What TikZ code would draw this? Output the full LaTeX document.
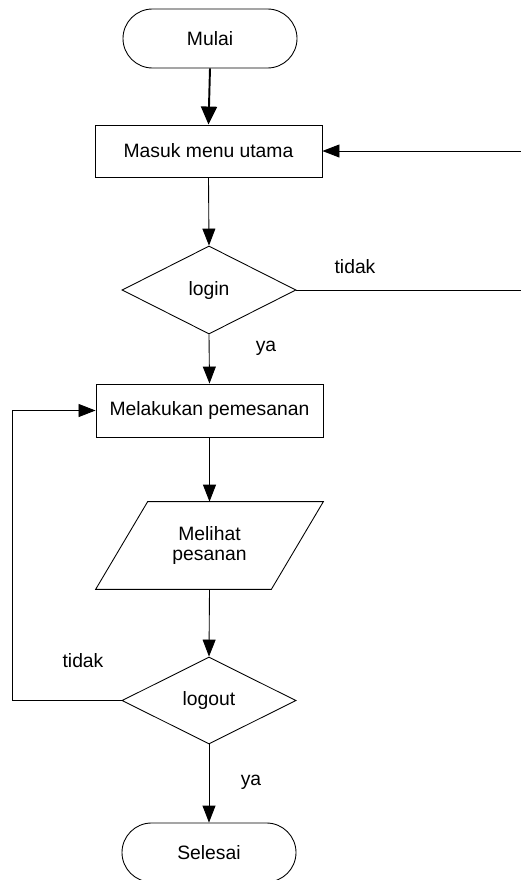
\documentclass[tikz,border=0pt]{standalone}
\usepackage{fontspec}
\setmainfont{Liberation Sans}
\usetikzlibrary{shapes.geometric,arrows.meta}

\begin{document}
\begin{tikzpicture}[x=0.2mm, y=-0.2mm,
  font=\fontsize{11pt}{11pt}\selectfont,
  terminal/.style={draw, rectangle, rounded corners=5.9mm, minimum width=34.8mm, minimum height=11.8mm, line width=0.5pt},
  process/.style={draw, rectangle, minimum width=45.4mm, line width=0.5pt},
  decision/.style={draw, diamond, inner sep=0pt, minimum width=34.8mm, line width=0.5pt},
  io/.style={rectangle, inner sep=0pt, minimum width=45.4mm, minimum height=17.4mm, align=center},
  arrow/.style={-{Triangle[length=3.4mm, width=2.6mm]}, line width=0.5pt}]

\useasboundingbox (0,0) rectangle (520,880);

% Draw the flow nodes
\node[terminal] (mulai) at (210, 38.5) {Mulai};
\node[process, minimum height=10.4mm] (masuk) at (208.5, 151) {Masuk menu utama};
\node[decision, minimum height=17.6mm] (login) at (209, 290) {login};
\node[process, minimum height=10.6mm] (pesan) at (209.5, 410.5) {Melakukan pemesanan};
\node[io] (lihat) at (209.5, 545.5) {Melihat\\pesanan};
\node[decision, minimum height=17.4mm] (logout) at (209, 700.5) {logout};
\node[terminal] (selesai) at (209, 852.5) {Selesai};

% Draw the slanted input box round lihat
\draw [line width=0.5pt] ([xshift=10.4mm]lihat.north west) -- (lihat.north east)
  -- ([xshift=-10.4mm]lihat.south east) -- (lihat.south west) -- cycle;

% Draw the arrows
\draw [-{Triangle[length=3.6mm, width=3.2mm]}, line width=1.1pt] (mulai.south) -- (masuk.north);
\draw [arrow] (masuk.south) -- (login.north);
\draw [arrow] (login.south) -- (pesan.north);
\draw [arrow] (pesan.south) -- (lihat.north);
\draw [arrow] (lihat.south) -- (logout.north);
\draw [arrow] (logout.south) -- (selesai.north);

% Draw the loops back
\coordinate (kanan) at (526, 290);
\draw [arrow] (login.east) -- (kanan) |- (masuk.east);
\coordinate (kiri) at (12, 700.5);
\draw [arrow] (logout.west) -- (kiri) |- (pesan.west);

% Labels of the choices
\node (tidakLogin) at (355, 267) {tidak};
\node (yaLogin) at (266, 348) {ya};
\node (tidakLogout) at (83, 661) {tidak};
\node (yaLogout) at (251, 782) {ya};

\end{tikzpicture}
\end{document}
